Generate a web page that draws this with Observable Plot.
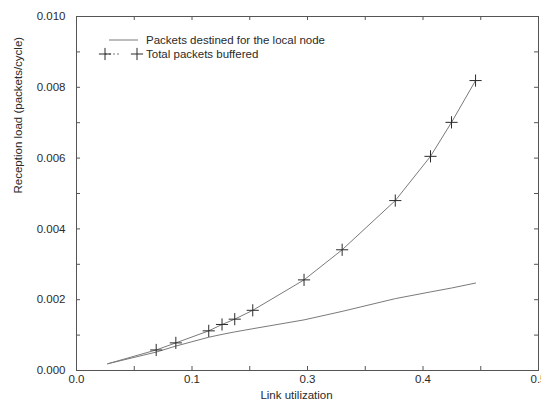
<!DOCTYPE html>
<html><head><meta charset="utf-8">
<script src="https://cdn.jsdelivr.net/npm/d3@7"></script>
<script src="https://cdn.jsdelivr.net/npm/@observablehq/plot@0.6"></script>
<style>
body{margin:0;background:#fff}
svg{font-family:"Liberation Sans",Arial,Helvetica,sans-serif}
</style>
</head><body><div id="chart"></div>
<script>
// Link utilization (x)
const utilization   = [0.027, 0.069, 0.086, 0.1145, 0.126, 0.137, 0.1526, 0.197, 0.230, 0.276, 0.3065, 0.3247, 0.3455];
// Reception load (packets/cycle)
const localNode     = [0.00019, 0.00052, 0.00069, 0.00094, 0.00102, 0.00109, 0.00118, 0.00143, 0.00167, 0.00203, 0.00222, 0.00233, 0.00247];
const totalBuffered = [0.00019, 0.00058, 0.00078, 0.00112, 0.00130, 0.00145, 0.00170, 0.00256, 0.00341, 0.00480, 0.00605, 0.00701, 0.00819];
const totalMarked   = [false, true, true, true, true, true, true, true, true, true, true, true, true];

const seriesNames = ["Packets destined for the local node", "Total packets buffered"];

const xTicks = [0, 0.1, 0.2, 0.3, 0.4];
const xTickLabels = ["0.0", "0.1", "0.3", "0.4", "0.5"];
const xMinor = [0.05, 0.1, 0.15, 0.2, 0.25, 0.3, 0.35];
const yTicks = [0, 0.002, 0.004, 0.006, 0.008, 0.010];
const yTickLabels = ["0.000", "0.002", "0.004", "0.006", "0.008", "0.010"];
const yMinor = [0.001, 0.002, 0.003, 0.004, 0.005, 0.006, 0.007, 0.008, 0.009];
const xTitle = "Link utilization";
const yTitle = "Reception load (packets/cycle)";

const W = 541, H = 403, mL = 76, mR = 3, mT = 16, mB = 33;
const innerW = W - mL - mR, innerH = H - mT - mB;
const tickLen = 4;
const ink = "#2a2a2a", lineCol = "#7a7a7a", frameCol = "#555";

const localData = utilization.map((x, i) => ({x, y: localNode[i]}));
const totalData = utilization.map((x, i) => ({x, y: totalBuffered[i], m: totalMarked[i]}));

const svg = Plot.plot({
  width: W, height: H,
  marginLeft: mL, marginRight: mR, marginTop: mT, marginBottom: mB,
  style: {fontFamily: "Liberation Sans, Arial, sans-serif", fontSize: "12px", color: ink, background: "#fff"},
  x: {domain: [0, 0.4]},
  y: {domain: [0, 0.010]},
  marks: [
    Plot.axisX(xTicks, {tickSize: 0, tickPadding: 4, tickFormat: (d, i) => xTickLabels[i], label: null, fontSize: 11.5}),
    Plot.axisY(yTicks, {tickSize: 0, tickPadding: 11, tickFormat: (d, i) => yTickLabels[i], label: null, fontSize: 11.5}),
    // inward tick marks
    Plot.tickY(yMinor, {y: d => d, insetRight: innerW - tickLen, stroke: frameCol}),
    Plot.tickY(yMinor, {y: d => d, insetLeft: innerW - tickLen, stroke: frameCol}),
    Plot.tickX(xMinor, {x: d => d, insetTop: innerH - tickLen, stroke: frameCol}),
    Plot.tickX(xMinor, {x: d => d, insetBottom: innerH - tickLen, stroke: frameCol}),
    Plot.frame({stroke: frameCol, strokeWidth: 1}),
    Plot.line(localData, {x: "x", y: "y", stroke: lineCol, strokeWidth: 1}),
    Plot.line(totalData, {x: "x", y: "y", stroke: lineCol, strokeWidth: 1}),
    Plot.dot(totalData.filter(d => d.m), {x: "x", y: "y", symbol: "plus", r: 4, stroke: ink, strokeWidth: 1}),
    Plot.text([xTitle], {frameAnchor: "bottom", dx: -11, dy: 28, text: d => d, fill: ink, fontSize: 11.5}),
    Plot.text([yTitle], {frameAnchor: "left", dx: -58, rotate: -90, text: d => d, fill: ink, fontSize: 11.5})
  ]
});

// legend (inside the plot, upper left)
const g = d3.select(svg).append("g").attr("font-size", 11.5).attr("fill", ink).attr("text-anchor", "start");
const rows = [40, 54];
g.append("line").attr("x1", 109).attr("x2", 138).attr("y1", rows[0]).attr("y2", rows[0])
  .attr("stroke", lineCol).attr("stroke-width", 1);
g.append("line").attr("x1", 105).attr("x2", 121).attr("y1", rows[1]).attr("y2", rows[1])
  .attr("stroke", lineCol).attr("stroke-width", 1).attr("stroke-dasharray", "2,2");
const plus = d3.symbol(d3.symbolPlus, 4 * 4 * Math.PI)();
[105, 137].forEach(cx => g.append("path").attr("d", plus).attr("transform", `translate(${cx},${rows[1]})`)
  .attr("fill", "none").attr("stroke", ink).attr("stroke-width", 1));
seriesNames.forEach((s, i) => g.append("text").attr("x", 146).attr("y", rows[i]).attr("dy", "0.35em").text(s));

document.getElementById("chart").appendChild(svg);
</script>
</body></html>
